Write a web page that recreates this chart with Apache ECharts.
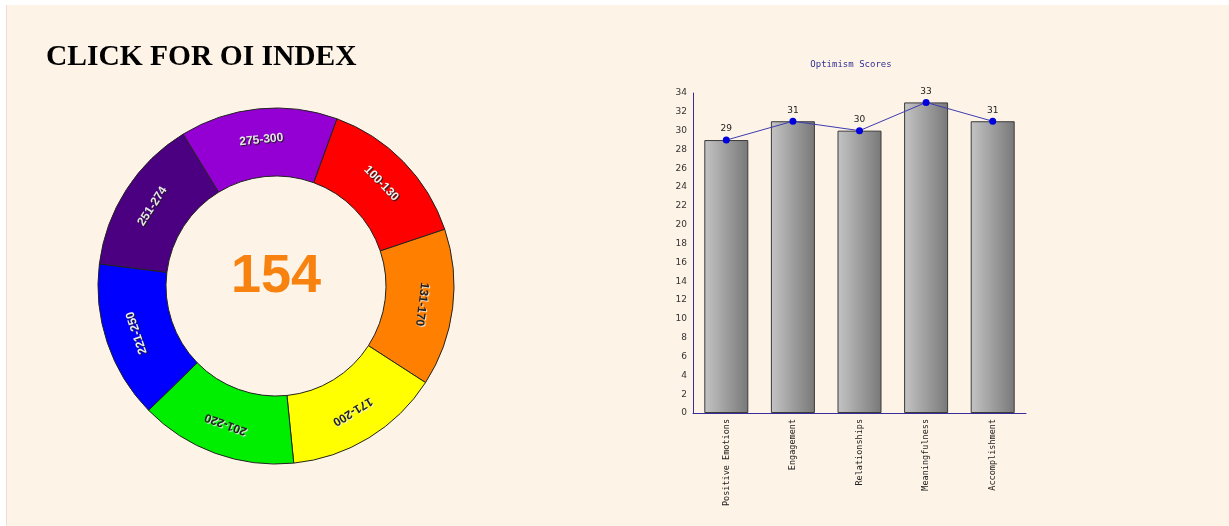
<!DOCTYPE html>
<html>
<head>
<meta charset="utf-8">
<title>OI Index</title>
<script src="https://cdn.jsdelivr.net/npm/echarts@6/dist/echarts.min.js"></script>
<style>
  html, body {
    margin: 0;
    padding: 0;
    background: #ffffff;
  }
  #panel {
    position: absolute;
    left: 6px;
    top: 5px;
    width: 1223px;
    height: 521px;
    background: #fdf3e6;
    border-left: 1px solid #f1dcd6;
  }
  #main {
    position: absolute;
    left: 0;
    top: 0;
    width: 1229px;
    height: 526px;
  }
</style>
</head>
<body>
<div id="panel"></div>
<div id="main"></div>
<script>
// ring (OI index bands)
const bandLabels = ['100-130', '131-170', '171-200', '201-220', '221-250', '251-274', '275-300']
const bandValues = [1, 1, 1, 1, 1, 1, 1]
const oiScore = 154

// optimism scores
const categories = ['Positive Emotions', 'Engagement', 'Relationships', 'Meaningfulness', 'Accomplishment']
const scores = [29, 31, 30, 33, 31]

// styles
const bandColors = ['#ff0000', '#ff8000', '#ffff00', '#00ee00', '#0000ff', '#4b0082', '#9400d3']
const bandInk = ['#f2f2f2', '#222222', '#222222', '#222222', '#eeeeee', '#e6e6e6', '#e6e6e6']
const ringStart = 70 // degrees, echarts convention

let myChart = echarts.init(document.getElementById('main'), null, { renderer: 'canvas' })

const step = 360 / bandValues.length
const ringData = bandValues.map(function (v, i) {
  // keep labels running clockwise around the ring, like the original
  const mid = (90 - ringStart) + (i + 0.5) * step
  const dark = bandInk[i] !== '#222222'
  return {
    name: bandLabels[i],
    value: v,
    itemStyle: { color: bandColors[i] },
    label: {
      rotate: -mid,
      color: bandInk[i],
      textShadowColor: dark ? '#1a1a1a' : '#f0f0f0',
      textShadowOffsetX: 1,
      textShadowOffsetY: 1,
      textShadowBlur: 1
    }
  }
})

let option = {
  animation: false,
  title: [
    {
      text: 'Optimism Scores',
      left: 846,
      top: 55,
      textAlign: 'center',
      textStyle: {
        fontFamily: 'DejaVu Sans Mono',
        fontSize: 9,
        fontWeight: 'normal',
        color: '#2f2f95'
      }
    }
  ],
  graphic: [
    {
      type: 'text',
      left: 46,
      top: 42,
      style: {
        text: 'CLICK FOR OI INDEX',
        font: 'bold 29.5px "Liberation Serif", "Times New Roman", serif',
        fill: '#000000'
      }
    },
    {
      type: 'text',
      x: 276,
      y: 277,
      style: {
        text: String(oiScore),
        font: 'bold 54px "Liberation Sans", Arial, sans-serif',
        fill: '#f7820f',
        align: 'center',
        verticalAlign: 'middle'
      }
    }
  ],
  grid: {
    left: 693,
    right: 203,
    top: 93,
    bottom: 113,
    containLabel: false
  },
  xAxis: {
    type: 'category',
    data: categories,
    axisLine: { lineStyle: { color: '#3a2b9b', width: 1 } },
    axisTick: { show: false },
    axisLabel: {
      rotate: 90,
      margin: 6,
      interval: 0,
      fontFamily: 'DejaVu Sans Mono',
      fontSize: 8.5,
      color: '#222222'
    }
  },
  yAxis: {
    type: 'value',
    min: 0,
    max: 34,
    interval: 2,
    axisLine: { show: true, lineStyle: { color: '#3a2b9b', width: 1 } },
    axisTick: { show: false },
    splitLine: { show: false },
    axisLabel: {
      margin: 6,
      fontFamily: 'DejaVu Sans',
      fontSize: 9,
      color: '#333333'
    }
  },
  series: [
    {
      type: 'pie',
      center: [276, 286],
      radius: [110, 178],
      startAngle: ringStart,
      clockwise: true,
      avoidLabelOverlap: false,
      itemStyle: {
        borderColor: '#222222',
        borderWidth: 1
      },
      label: {
        show: true,
        position: 'inside',
        formatter: '{b}',
        fontFamily: 'Liberation Sans',
        fontWeight: 'bold',
        fontSize: 12
      },
      labelLine: { show: false },
      emphasis: { disabled: true },
      data: ringData
    },
    {
      type: 'bar',
      data: scores,
      barWidth: 44,
      itemStyle: {
        color: new echarts.graphic.LinearGradient(0, 0, 1, 0, [
          { offset: 0, color: '#c4c4c4' },
          { offset: 1, color: '#787878' }
        ]),
        borderColor: '#3a3a3a',
        borderWidth: 1
      }
    },
    {
      type: 'line',
      data: scores,
      symbol: 'circle',
      symbolSize: 7,
      lineStyle: { color: '#3c3cb0', width: 1 },
      itemStyle: { color: '#0000dd' },
      label: {
        show: true,
        position: 'top',
        distance: 3,
        fontFamily: 'DejaVu Sans',
        fontSize: 9,
        color: '#222222'
      },
      z: 3
    }
  ]
}
myChart.setOption(option)
</script>
</body>
</html>
